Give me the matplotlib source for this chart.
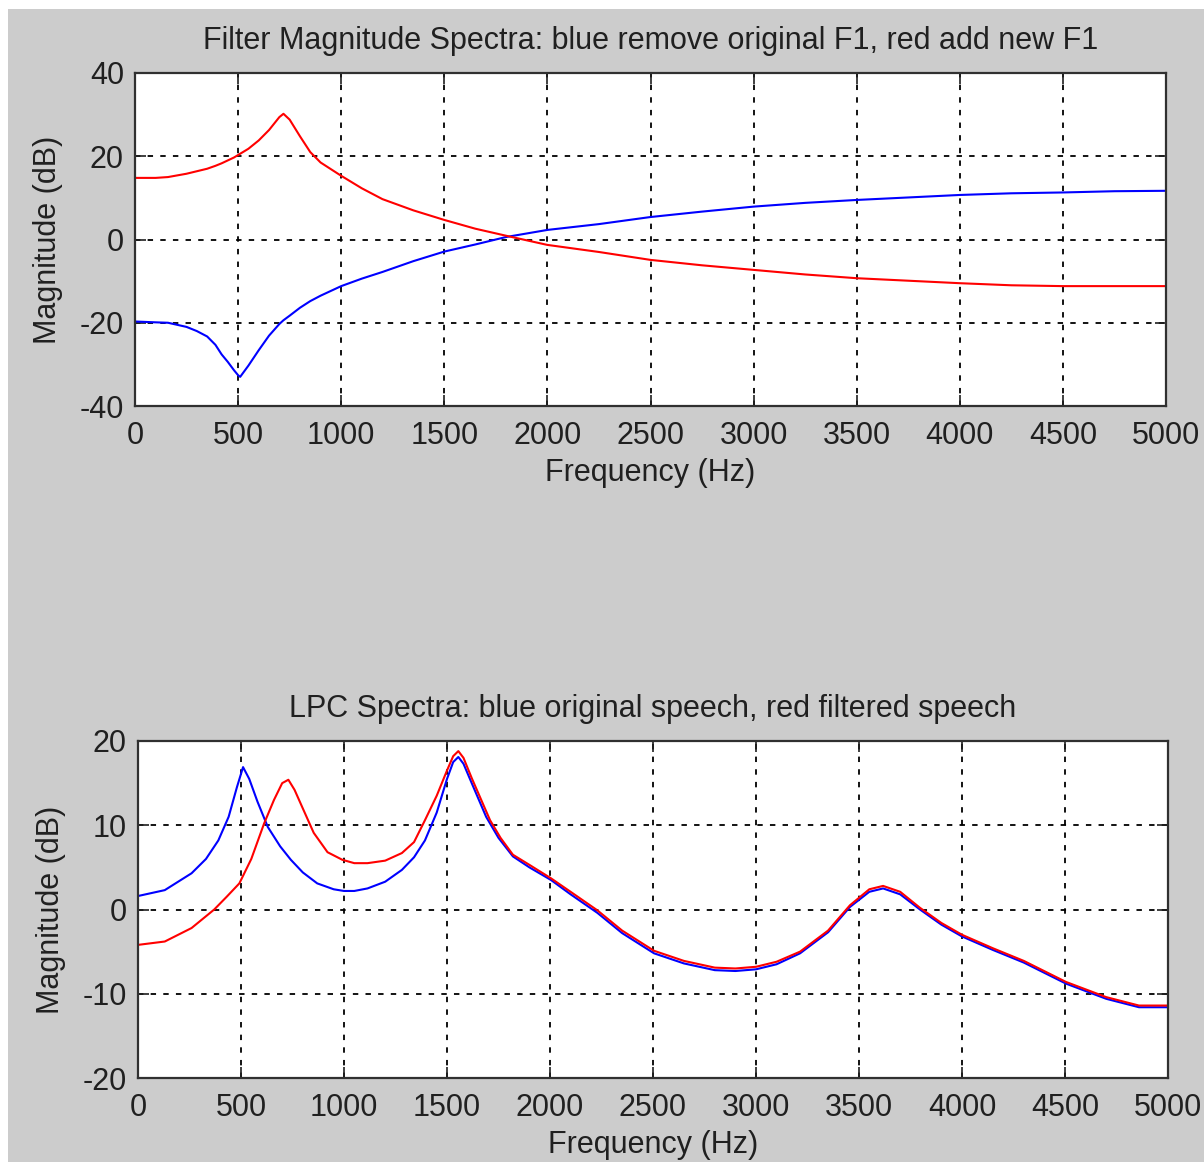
import matplotlib.pyplot as plt
from matplotlib.patches import Rectangle

plt.rcParams['font.family'] = ['Liberation Sans', 'DejaVu Sans']
plt.rcParams['axes.unicode_minus'] = False

# ====================== data ======================
# top: filter magnitude spectra
f_top = [0, 100, 160, 250, 300, 350, 390, 420, 450, 480, 500, 510, 550, 600, 650, 700,
         720, 750, 800, 850, 900, 1000, 1100, 1200, 1350, 1500, 1650, 1800, 2000, 2250,
         2500, 2750, 3000, 3250, 3500, 3750, 4000, 4250, 4500, 4750, 5000]
red_top = [14.8, 14.8, 15.0, 15.8, 16.4, 17.0, 17.7, 18.3, 19.0, 19.7, 20.3, 20.6, 21.8,
           23.8, 26.3, 29.4, 30.2, 28.8, 24.8, 21.0, 18.5, 15.3, 12.3, 9.7, 7.0, 4.7,
           2.6, 0.9, -1.3, -3.0, -4.9, -6.2, -7.3, -8.4, -9.3, -9.9, -10.5, -11.0,
           -11.2, -11.2, -11.2]
blue_top = [-19.7, -19.9, -20.0, -21.0, -22.0, -23.3, -25.3, -27.6, -29.4, -31.4, -32.6,
            -33.0, -30.3, -26.6, -23.1, -20.3, -19.4, -18.3, -16.4, -14.8, -13.5, -11.2,
            -9.4, -7.8, -5.2, -2.9, -1.2, 0.6, 2.3, 3.7, 5.4, 6.7, 7.9, 8.8, 9.5, 10.1,
            10.7, 11.1, 11.3, 11.6, 11.7]

# bottom: LPC spectra
f_blue = [0, 130, 260, 330, 390, 440, 480, 510, 540, 580, 630, 690, 742, 800, 870, 950,
          1000, 1050, 1114, 1200, 1281, 1340, 1393, 1450, 1500, 1530, 1555, 1580, 1620,
          1690, 1750, 1820, 1900, 2005, 2100, 2230, 2350, 2505, 2650, 2800, 2900, 3000,
          3100, 3214, 3350, 3456, 3550, 3617, 3700, 3796, 3900, 4000, 4150, 4300, 4505,
          4700, 4859, 5000]
blue_lpc = [1.6, 2.3, 4.3, 6.0, 8.2, 11.0, 14.5, 16.9, 15.5, 12.8, 9.8, 7.5, 5.9, 4.4,
            3.1, 2.4, 2.2, 2.2, 2.5, 3.3, 4.7, 6.2, 8.2, 11.5, 15.5, 17.5, 18.1, 17.3,
            15.0, 11.0, 8.5, 6.3, 5.0, 3.5, 1.8, -0.4, -2.8, -5.2, -6.4, -7.2, -7.3,
            -7.1, -6.5, -5.2, -2.7, 0.3, 2.1, 2.5, 1.8, 0.0, -1.8, -3.2, -4.8, -6.3,
            -8.8, -10.6, -11.6, -11.6]

f_red = [0, 130, 260, 370, 430, 492, 550, 612, 660, 700, 730, 760, 800, 853, 920, 992,
         1050, 1114, 1200, 1281, 1340, 1393, 1450, 1500, 1530, 1555, 1580, 1620, 1709,
         1760, 1820, 1900, 2005, 2100, 2230, 2350, 2505, 2650, 2800, 2900, 3000, 3100,
         3214, 3350, 3456, 3550, 3617, 3700, 3796, 3900, 4000, 4150, 4300, 4505, 4700,
         4859, 5000]
red_lpc = [-4.2, -3.8, -2.2, 0.0, 1.5, 3.1, 6.0, 10.2, 13.0, 15.0, 15.4, 14.2, 12.0, 9.1,
           6.8, 5.9, 5.5, 5.5, 5.8, 6.7, 8.0, 10.6, 13.5, 16.5, 18.2, 18.8, 18.0, 15.6,
           10.6, 8.5, 6.5, 5.3, 3.7, 2.1, -0.1, -2.5, -4.9, -6.1, -6.9, -7.0, -6.8,
           -6.2, -5.0, -2.5, 0.5, 2.4, 2.8, 2.1, 0.2, -1.6, -3.0, -4.6, -6.1, -8.6,
           -10.4, -11.4, -11.4]

x_ticks = [0, 500, 1000, 1500, 2000, 2500, 3000, 3500, 4000, 4500, 5000]

W, H = 1204, 1162
fig = plt.figure(figsize=(W / 100, H / 100), dpi=100, facecolor='white')
fig.patches.append(Rectangle((8 / W, 0), 1 - 8 / W, 1 - 9 / H, transform=fig.transFigure,
                             facecolor='#cccccc', edgecolor='none', zorder=-10))


def setup(ax, ylim, yticks, title):
    ax.set_facecolor('white')
    ax.set_xlim(0, 5000)
    ax.set_ylim(*ylim)
    ax.set_xticks(x_ticks)
    ax.set_yticks(yticks)
    ax.tick_params(direction='in', length=8, width=1.2, top=True, right=True,
                   labelsize=22, colors='#202020')
    ax.tick_params(axis='x', pad=11)
    ax.tick_params(axis='y', pad=8)
    ax.grid(True, color='black', linestyle=(0, (3, 4)), linewidth=1.3)
    for s in ax.spines.values():
        s.set_color('#303030')
        s.set_linewidth(1.6)
    ax.set_xlabel('Frequency (Hz)', fontsize=22, color='#202020', labelpad=5)
    ax.set_ylabel('Magnitude (dB)', fontsize=22, color='#202020', labelpad=12)
    ax.set_title(title, fontsize=22, color='#202020', pad=17)


# 图1
ax1 = fig.add_axes([135 / W, 1 - 406 / H, (1166 - 135) / W, (406 - 73) / H])
ax1.plot(f_top, blue_top, color='#0000ff', linewidth=1.5)
ax1.plot(f_top, red_top, color='#ff0000', linewidth=1.5)
setup(ax1, (-40, 40), [-40, -20, 0, 20, 40],
      'Filter Magnitude Spectra: blue remove original F1, red add new F1')

# 图2
ax2 = fig.add_axes([138 / W, 1 - 1078 / H, (1168 - 138) / W, (1078 - 741) / H])
ax2.plot(f_blue, blue_lpc, color='#0000ff', linewidth=1.5)
ax2.plot(f_red, red_lpc, color='#ff0000', linewidth=1.5)
setup(ax2, (-20, 20), [-20, -10, 0, 10, 20],
      'LPC Spectra: blue original speech, red filtered speech')

plt.savefig('out.png', dpi=100, facecolor=fig.get_facecolor())
